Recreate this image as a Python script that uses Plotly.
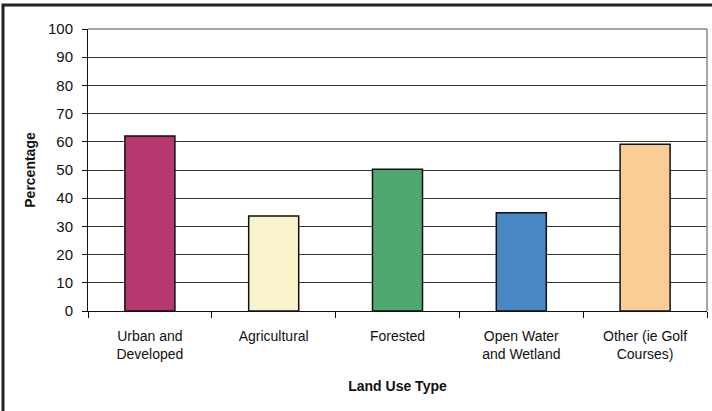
import plotly.graph_objects as go

categories = ["Urban and<br>Developed", "Agricultural", "Forested",
              "Open Water<br>and Wetland", "Other (ie Golf<br>Courses)"]
percentages = [62.1, 33.7, 50.3, 34.8, 59.1]
bar_colors = ["#B73770", "#F8F3CC", "#4EA86F", "#4886C4", "#F8CD96"]
y_ticks = list(range(0, 101, 10))

fig = go.Figure()
fig.add_trace(go.Bar(
    x=categories, y=percentages,
    marker=dict(color=bar_colors, line=dict(color="#111111", width=1.5)),
))

fig.update_layout(
    width=712, height=411,
    margin=dict(l=88, r=5, t=29, b=100),
    paper_bgcolor="white", plot_bgcolor="white",
    bargap=0.596, showlegend=False,
    font=dict(family="Arial, Liberation Sans, sans-serif", size=14, color="#111111"),
)

fig.update_xaxes(
    showline=True, linecolor="#111111", linewidth=1,
    ticks="outside", tickson="boundaries", ticklen=6, tickcolor="#111111",
    ticklabelstandoff=12,
    title=dict(text="<b>Land Use Type</b>", standoff=20,
               font=dict(size=14)),
)
fig.update_yaxes(
    range=[0, 100], tickvals=y_ticks,
    showline=True, linecolor="#111111", linewidth=1,
    ticks="outside", ticklen=5, tickcolor="#111111", ticklabelstandoff=6,
    tickfont=dict(size=15),
    showgrid=True, gridcolor="#333333", gridwidth=1.2,
    zeroline=False,
    title=dict(text="<b>Percentage</b>", standoff=9, font=dict(size=14)),
)

# gray top and right edges of the plot area
fig.add_shape(type="line", xref="paper", yref="paper", x0=0, x1=1, y0=1, y1=1,
              line=dict(color="#8a8a8a", width=1.5))
fig.add_shape(type="line", xref="paper", yref="paper", x0=1, x1=1, y0=0, y1=1,
              line=dict(color="#8a8a8a", width=1.5))
# outer chart frame (top and left visible)
fig.add_shape(type="rect", xref="paper", yref="paper",
              x0=-85 / 619, x1=1.2, y0=-1.0, y1=306 / 282,
              line=dict(color="#222222", width=3), layer="above")

fig.write_html("out.html", config={"displayModeBar": False},
               post_script="document.body.style.margin='0';")
